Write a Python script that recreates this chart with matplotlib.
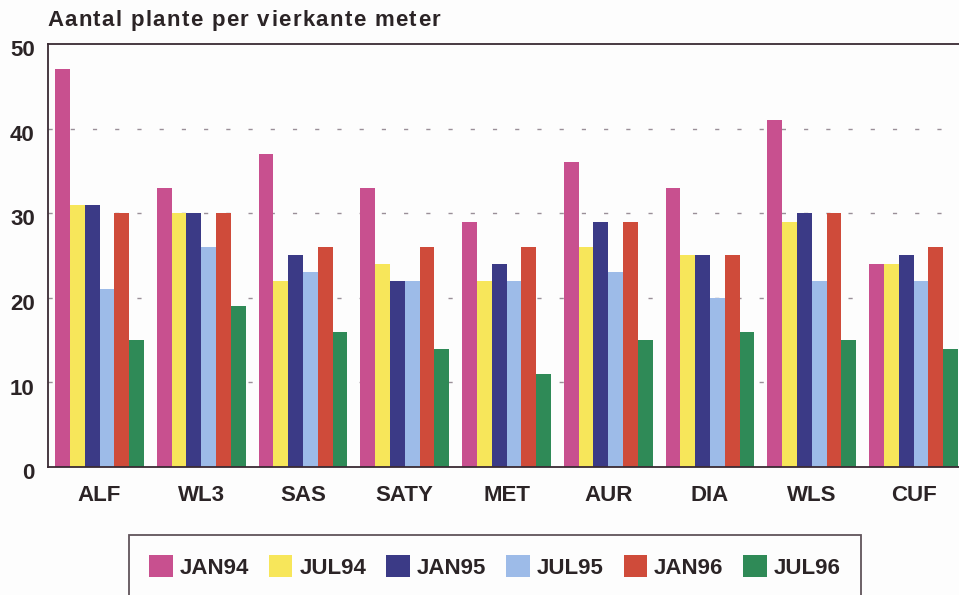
import matplotlib
matplotlib.use("Agg")
import matplotlib.pyplot as plt
import matplotlib.transforms as mtransforms
import numpy as np

categories = ["ALF", "WL3", "SAS", "SATY", "MET", "AUR", "DIA", "WLS", "CUF"]
series_names = ["JAN94", "JUL94", "JAN95", "JUL95", "JAN96", "JUL96"]
jan94 = [47, 33, 37, 33, 29, 36, 33, 41, 24]
jul94 = [31, 30, 22, 24, 22, 26, 25, 29, 24]
jan95 = [31, 30, 25, 22, 24, 29, 25, 30, 25]
jul95 = [21, 26, 23, 22, 22, 23, 20, 22, 22]
jan96 = [30, 30, 26, 26, 26, 29, 25, 30, 26]
jul96 = [15, 19, 16, 14, 11, 15, 16, 15, 14]
series = [jan94, jul94, jan95, jul95, jan96, jul96]
colors = ["#C8508F", "#F7E65A", "#3B3A86", "#9DBBE8", "#CF4B3A", "#2F8A57"]
yticks = [0, 10, 20, 30, 40, 50]
title = "Aantal plante per vierkante meter"

txt = "#2b2426"
plt.rcParams["font.family"] = ["Liberation Sans", "DejaVu Sans"]
plt.rcParams["font.weight"] = "bold"

W, H = 959, 595
fig = plt.figure(figsize=(W / 100, H / 100), dpi=100)
fig.patch.set_facecolor("#fdfdfd")

ppu = 101.75
left_px, bottom_px, top_px = 48, 467, 44
xl = -51.5 / ppu
xr = 8.6
ax = fig.add_axes([left_px / W, 1 - bottom_px / H, (xr - xl) * ppu / W, (bottom_px - top_px) / H])
ax.set_facecolor("#fdfdfd")

x = np.arange(len(categories))
bw = 14.8 / ppu
n = len(series)
for i, (vals, c, name) in enumerate(zip(series, colors, series_names)):
    ax.bar(x + (i - (n - 1) / 2) * bw, vals, width=bw, color=c, label=name, zorder=2, linewidth=0)

ax.set_xlim(xl, xr)
ax.set_ylim(0, 50)
ax.set_yticks(yticks)
ax.set_xticks(x)
ax.set_xticklabels(categories)
for yv in yticks[1:-1]:
    ax.axhline(yv, color="#9a8f98", lw=1.0, dashes=(3, 13), zorder=1)

ax.tick_params(axis="y", length=0, pad=9.5, labelsize=16, labelcolor=txt)
ax.tick_params(axis="x", length=0, pad=13, labelsize=16, labelcolor=txt)
off = mtransforms.ScaledTranslation(0, -3 / 72, fig.dpi_scale_trans)
for lab in ax.get_yticklabels():
    lab.set_transform(lab.get_transform() + off)
for s in ["left", "bottom", "top"]:
    ax.spines[s].set_color("#3a2a33")
    ax.spines[s].set_linewidth(1.3)
ax.spines["right"].set_visible(False)

# title with letter tracking
renderer = fig.canvas.get_renderer()
def text_w(s):
    t = fig.text(0, 0, s, fontsize=16, fontweight="bold")
    w = t.get_window_extent(renderer).width
    t.remove()
    return w
space_w = text_w("a a") - text_w("aa")
xpos = 47.0
track = 1.35
for ch in title:
    if ch == " ":
        xpos += space_w + track
        continue
    t = fig.text(xpos / W, 1 - 26 / H, ch, fontsize=16, fontweight="bold", color=txt,
                 va="baseline", ha="left")
    xpos += t.get_window_extent(renderer).width + track

handles, labels = ax.get_legend_handles_labels()
leg = fig.legend(handles, labels, loc="center", bbox_to_anchor=(495 / W, 1 - 567 / H),
                 ncol=6, frameon=True, fancybox=False, fontsize=16,
                 handlelength=1.05, handleheight=1.1, handletextpad=0.32, columnspacing=0.9,
                 borderpad=0.9, borderaxespad=0)
leg.get_frame().set_edgecolor("#3a2a33")
leg.get_frame().set_linewidth(1.3)
leg.get_frame().set_facecolor("#fdfdfd")
for t in leg.get_texts():
    t.set_color(txt)

fig.savefig("out.png", dpi=100, facecolor=fig.get_facecolor())
